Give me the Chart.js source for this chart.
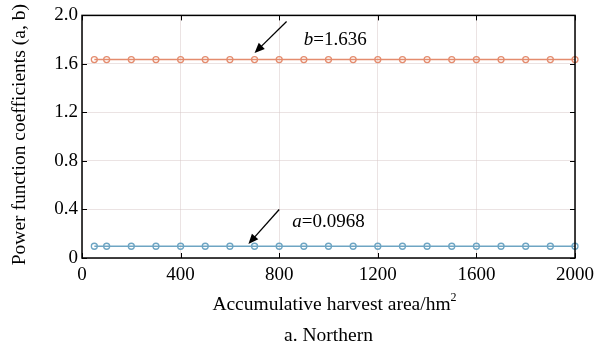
<!DOCTYPE html>
<html>
<head>
<meta charset="utf-8">
<script src="https://cdn.jsdelivr.net/npm/chart.js@4/dist/chart.umd.min.js"></script>
<style>
  html, body { margin: 0; padding: 0; background: #fff; }
  #wrap { width: 609px; height: 351px; }
</style>
</head>
<body>
<div id="wrap"><canvas id="chart" width="609" height="351"></canvas></div>
<script>
// Accumulative harvest area (hm2) at each sample
const areas = [50, 100, 200, 300, 400, 500, 600, 700, 800, 900, 1000,
  1100, 1200, 1300, 1400, 1500, 1600, 1700, 1800, 1900, 2000];
// fitted power function coefficients (constant over area)
const coefA = areas.map(() => 0.0968);
const coefB = areas.map(() => 1.636);

const xTicks = [0, 400, 800, 1200, 1600, 2000];
const yTicks = [0, 0.4, 0.8, 1.2, 1.6, 2.0];

// arrow annotations in data units: [tailX, tailY, headX, headY, textX, textY, name, value]
const notes = [
  [830, 1.95, 700, 1.69, 900, 1.80, 'b', '=1.636'],
  [800, 0.40, 675, 0.115, 853, 0.30, 'a', '=0.0968'],
];

const serif = '"Liberation Serif", "Times New Roman", serif';
const orange = 'rgb(228,140,110)';
const blue = 'rgb(110,165,195)';

const decorations = {
  id: 'decorations',
  afterDraw(chart) {
    const ctx = chart.ctx;
    const xs = chart.scales.x, ys = chart.scales.y;
    const area = chart.chartArea;
    ctx.save();

    // inward ticks on all four sides
    ctx.strokeStyle = '#000';
    ctx.lineWidth = 1;
    xTicks.forEach((v) => {
      const px = Math.round(xs.getPixelForValue(v)) + 0.5;
      ctx.beginPath();
      ctx.moveTo(px, area.bottom); ctx.lineTo(px, area.bottom - 5);
      ctx.moveTo(px, area.top); ctx.lineTo(px, area.top + 5);
      ctx.stroke();
    });
    yTicks.forEach((v) => {
      const py = Math.round(ys.getPixelForValue(v)) + 0.5;
      ctx.beginPath();
      ctx.moveTo(area.left, py); ctx.lineTo(area.left + 5, py);
      ctx.moveTo(area.right, py); ctx.lineTo(area.right - 5, py);
      ctx.stroke();
    });

    // frame
    ctx.lineWidth = 1.5;
    ctx.strokeRect(area.left, area.top, area.right - area.left, area.bottom - area.top);

    // arrows and labels
    notes.forEach(([tx, ty, hx, hy, lx, ly, name, val]) => {
      const x1 = xs.getPixelForValue(tx), y1 = ys.getPixelForValue(ty);
      const x2 = xs.getPixelForValue(hx), y2 = ys.getPixelForValue(hy);
      const ang = Math.atan2(y2 - y1, x2 - x1);
      ctx.strokeStyle = '#000';
      ctx.fillStyle = '#000';
      ctx.lineWidth = 1.3;
      ctx.beginPath();
      ctx.moveTo(x1, y1);
      ctx.lineTo(x2 - 8 * Math.cos(ang), y2 - 8 * Math.sin(ang));
      ctx.stroke();
      ctx.beginPath();
      ctx.moveTo(x2, y2);
      ctx.lineTo(x2 - 11 * Math.cos(ang - 0.4), y2 - 11 * Math.sin(ang - 0.4));
      ctx.lineTo(x2 - 11 * Math.cos(ang + 0.4), y2 - 11 * Math.sin(ang + 0.4));
      ctx.closePath();
      ctx.fill();

      const px = xs.getPixelForValue(lx), py = ys.getPixelForValue(ly);
      ctx.textBaseline = 'middle';
      ctx.textAlign = 'left';
      ctx.font = 'italic 19px ' + serif;
      ctx.fillText(name, px, py);
      const w = ctx.measureText(name).width;
      ctx.font = '19px ' + serif;
      ctx.fillText(val, px + w, py);
    });

    // axis titles and caption
    ctx.fillStyle = '#000';
    ctx.textBaseline = 'middle';
    const cx = (area.left + area.right) / 2;
    ctx.font = '19.5px ' + serif;
    const xt = 'Accumulative harvest area/hm';
    const wt = ctx.measureText(xt).width;
    ctx.font = '12px ' + serif;
    const ws = ctx.measureText('2').width;
    const x0 = cx + 6 - (wt + ws) / 2;
    ctx.textAlign = 'left';
    ctx.font = '19.5px ' + serif;
    ctx.fillText(xt, x0, 305);
    ctx.font = '12px ' + serif;
    ctx.fillText('2', x0 + wt, 298);
    ctx.textAlign = 'center';
    ctx.font = '19.5px ' + serif;
    ctx.fillText('a. Northern', cx, 336);
    ctx.translate(20, (area.top + area.bottom) / 2 - 2);
    ctx.rotate(-Math.PI / 2);
    ctx.fillText('Power function coefficients (a, b)', 0, 0);
    ctx.restore();
  },
};

new Chart(document.getElementById('chart'), {
  type: 'line',
  data: {
    datasets: [
      {
        label: 'b',
        data: areas.map((x, i) => ({ x: x, y: coefB[i] })),
        borderColor: orange,
        backgroundColor: 'rgba(255,255,255,0)',
        borderWidth: 1.5,
        pointRadius: 3,
        pointBorderWidth: 1.3,
        pointBorderColor: orange,
        pointBackgroundColor: 'rgba(255,255,255,0)',
        clip: 6,
      },
      {
        label: 'a',
        data: areas.map((x, i) => ({ x: x, y: coefA[i] })),
        borderColor: blue,
        backgroundColor: 'rgba(255,255,255,0)',
        borderWidth: 1.5,
        pointRadius: 3,
        pointBorderWidth: 1.3,
        pointBorderColor: blue,
        pointBackgroundColor: 'rgba(255,255,255,0)',
        clip: 6,
      },
    ],
  },
  options: {
    responsive: false,
    animation: false,
    layout: { padding: { left: 0, right: 34, top: 14, bottom: 0 } },
    plugins: {
      legend: { display: false },
      tooltip: { enabled: false },
    },
    scales: {
      x: {
        type: 'linear',
        min: 0,
        max: 2000,
        afterBuildTicks: (scale) => { scale.ticks = xTicks.map((v) => ({ value: v })); },
        afterFit: (scale) => { scale.height = 93; },
        border: { display: false },
        grid: { color: 'rgba(215,200,200,0.5)', lineWidth: 1, drawTicks: false },
        ticks: {
          padding: 6,
          color: '#000',
          font: { family: serif, size: 19 },
          callback: (v) => String(v),
        },
      },
      y: {
        min: 0,
        max: 2,
        afterBuildTicks: (scale) => { scale.ticks = yTicks.map((v) => ({ value: v })); },
        afterFit: (scale) => { scale.width = 82; },
        border: { display: false },
        grid: { color: 'rgba(215,200,200,0.5)', lineWidth: 1, drawTicks: false },
        ticks: {
          padding: 4,
          color: '#000',
          font: { family: serif, size: 19 },
          callback: (v) => (v === 0 ? '0' : v.toFixed(1)),
        },
      },
    },
  },
  plugins: [decorations],
});
</script>
</body>
</html>
